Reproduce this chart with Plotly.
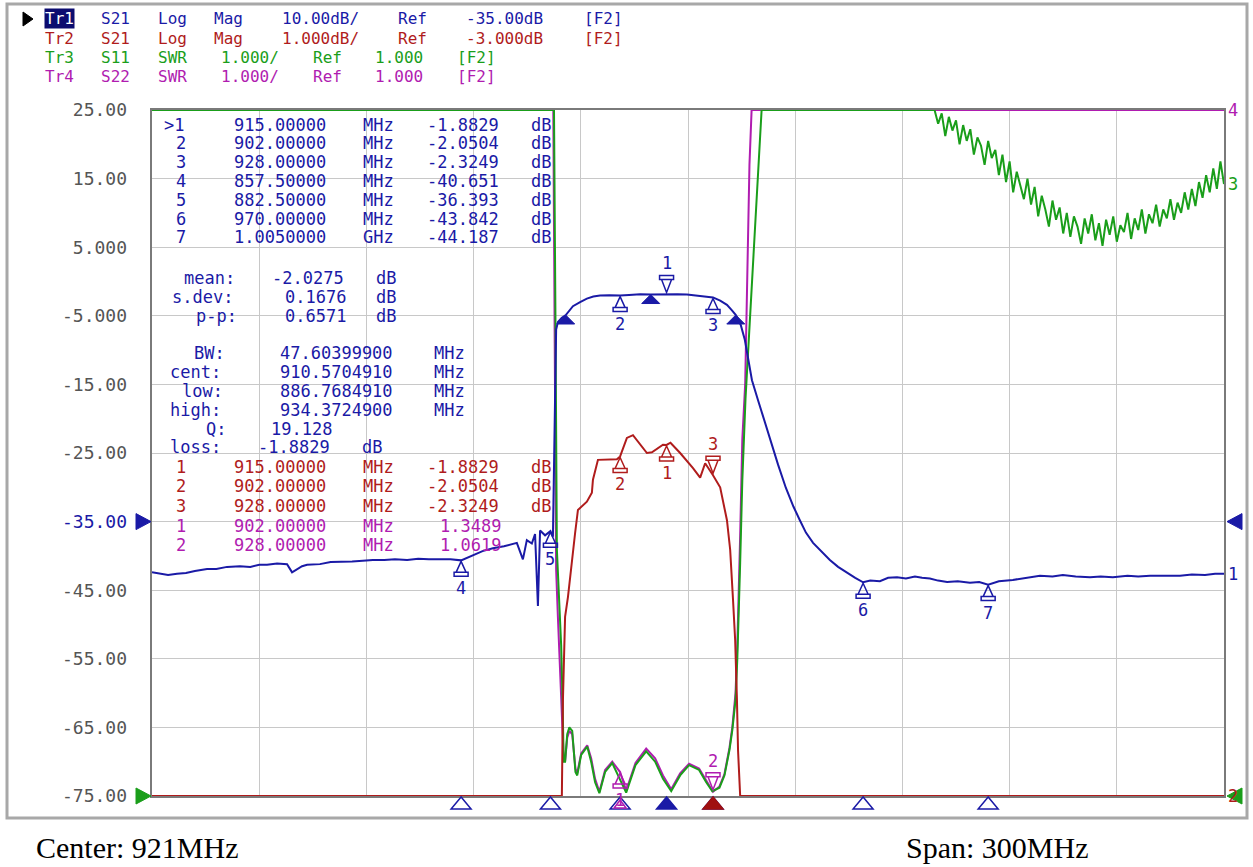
import re
import numpy as np
import plotly.graph_objects as go

# ---------------- stimulus / scale settings ----------------
center_mhz = 921.0
span_mhz = 300.0
n_div = 10

tr1_scale, tr1_ref, tr1_refpos = 10.0, -35.0, 4   # Log Mag 10 dB/div, ref -35 dB
tr2_scale, tr2_ref, tr2_refpos = 1.0, -3.0, 4     # Log Mag 1 dB/div, ref -3 dB
swr_scale, swr_ref, swr_refpos = 1.0, 1.0, 0      # SWR 1/div, ref 1.000

y_ticks = [25, 15, 5, -5, -15, -25, -35, -45, -55, -65, -75]
y_tick_labels = ["25.00", "15.00", "5.000", "-5.000", "-15.00", "-25.00",
                 "-35.00", "-45.00", "-55.00", "-65.00", "-75.00"]

header_lines = ["Tr1 S21 Log Mag 10.00dB/ Ref -35.00dB [F2]",
                "Tr2 S21 Log Mag 1.000dB/ Ref -3.000dB [F2]",
                "Tr3 S11 SWR 1.000/ Ref 1.000 [F2]",
                "Tr4 S22 SWR 1.000/ Ref 1.000 [F2]"]

# ---------------- Tr1  S21 Log Mag (dB) ----------------
tr1_freq = [771.0, 773.0, 775.5, 778.0, 780.5, 783.0, 786.4, 789.0, 792.0, 795.6,
            798.5, 801.0, 803.2, 806.0, 808.8, 810.2, 811.6, 813.0, 814.4, 818.0,
            821.0, 823.6, 827.0, 830.0, 832.8, 836.0, 839.0, 842.4, 845.5, 848.5,
            851.6, 854.5, 857.5, 860.8, 863.5, 866.4, 869.5, 873.1, 874.8, 875.9,
            877.3, 878.2, 879.0, 879.6, 881.0, 882.5, 883.2, 883.8, 884.1, 884.6,
            885.7, 886.8, 888.8, 890.8, 892.7, 894.5, 896.4, 899.0, 902.0, 904.5,
            907.6, 910.6, 913.0, 915.0, 918.0, 920.7, 924.4, 928.0, 930.0, 931.9,
            933.3, 934.4, 935.2, 935.8, 936.9, 937.8, 938.9, 940.6, 942.3, 943.9,
            946.2, 948.4, 950.5, 952.3, 954.0, 956.0, 958.5, 960.7, 963.0, 965.5,
            967.8, 970.0, 972.0, 974.7, 977.0, 979.5, 982.0, 984.5, 986.5, 988.7,
            991.0, 993.5, 996.5, 999.9, 1002.5, 1005.0, 1008.0, 1011.9, 1015.5, 1019.5,
            1023.0, 1025.9, 1029.5, 1033.5, 1036.5, 1039.9, 1044.0, 1047.0, 1050.3, 1054.5,
            1058.7, 1062.0, 1065.7, 1068.5, 1071.0]
tr1_db = [-42.4, -42.6, -42.8, -42.6, -42.5, -42.2, -41.9, -41.9, -41.6, -41.5,
          -41.6, -41.3, -41.3, -41.1, -41.2, -42.4, -41.9, -41.5, -41.3, -41.2,
          -40.9, -40.9, -40.8, -40.7, -40.6, -40.6, -40.5, -40.6, -40.4, -40.5,
          -40.5, -40.5, -40.651, -39.9, -39.3, -38.9, -38.6, -38.1, -40.5, -37.7,
          -38.2, -36.8, -47.3, -36.3, -37.0, -36.393, -37.2, -17.0, -7.0, -5.9,
          -5.3, -4.9, -3.6, -3.0, -2.5, -2.2, -2.05, -2.0, -2.0504, -1.95,
          -1.85, -1.9, -1.85, -1.8829, -1.85, -1.9, -2.1, -2.3249, -2.8, -3.4,
          -4.2, -4.9, -5.7, -6.4, -8.5, -11.4, -14.4, -17.3, -20.2, -23.1,
          -26.7, -30.1, -32.8, -34.8, -36.6, -38.1, -39.5, -40.6, -41.6, -42.5,
          -43.2, -43.842, -43.6, -43.7, -43.2, -43.1, -43.3, -43.0, -43.2, -43.3,
          -43.6, -43.8, -43.7, -43.9, -43.8, -44.187, -43.7, -43.5, -43.2, -42.9,
          -43.0, -42.8, -43.0, -43.1, -43.0, -43.1, -42.9, -43.0, -42.9, -42.9,
          -42.9, -42.7, -42.8, -42.6, -42.6]

# ---------------- Tr2  S21 Log Mag (dB, 1 dB/div) ----------------
tr2_freq = [771.0, 885.7, 886.0, 886.6, 887.4, 888.5, 889.4, 890.2, 892.7, 894.1,
            894.4, 895.8, 899.2, 901.1, 902.0, 903.9, 905.6, 907.6, 909.5, 910.9,
            914.0, 915.0, 916.1, 918.8, 922.4, 924.4, 925.8, 928.0, 930.0, 931.9,
            932.8, 933.6, 934.2, 934.7, 935.0, 935.6, 1071.0]
tr2_db = [-7.0, -7.0, -5.60, -4.39, -4.10, -3.56, -3.17, -2.83, -2.71, -2.58,
          -2.39, -2.10, -2.10, -2.09, -2.0504, -1.78, -1.74, -1.87, -2.00, -1.99,
          -1.88, -1.8829, -1.85, -2.00, -2.22, -2.36, -2.15, -2.3249, -2.50, -2.98,
          -3.41, -4.14, -4.73, -5.60, -6.33, -7.0, -7.0]

# ---------------- Tr3  S11 SWR ----------------
tr3_freq = [771.0, 883.5, 883.9, 884.3, 884.9, 885.5, 885.9, 886.2, 886.6, 887.2,
            887.8, 888.6, 889.5, 890.0, 891.1, 892.2, 892.8, 893.9, 895.0, 896.2,
            897.8, 899.8, 901.8, 903.7, 906.3, 909.3, 911.8, 914.0, 916.3, 918.8,
            921.3, 924.1, 926.1, 927.8, 929.8, 931.2, 932.6, 933.4, 934.3, 934.8,
            935.6, 936.2, 937.1, 938.2, 939.4, 940.5, 941.6,
            990.0, 991.0, 992.0, 993.0, 994.0, 995.0, 996.0, 997.0, 998.0, 999.0,
            1000.0, 1001.0, 1002.0, 1003.0, 1004.0, 1005.0, 1006.0, 1007.0, 1008.0, 1009.0,
            1010.0, 1011.0, 1012.0, 1013.0, 1014.0, 1015.0, 1016.0, 1017.0, 1018.0, 1019.0,
            1020.0, 1021.0, 1022.0, 1023.0, 1024.0, 1025.0, 1026.0, 1027.0, 1028.0, 1029.0,
            1030.0, 1031.0, 1032.0, 1033.0, 1034.0, 1035.0, 1036.0, 1037.0, 1038.0, 1039.0,
            1040.0, 1041.0, 1042.0, 1043.0, 1044.0, 1045.0, 1046.0, 1047.0, 1048.0, 1049.0,
            1050.0, 1051.0, 1052.0, 1053.0, 1054.0, 1055.0, 1056.0, 1057.0, 1058.0, 1059.0,
            1060.0, 1061.0, 1062.0, 1063.0, 1064.0, 1065.0, 1066.0, 1067.0, 1068.0, 1069.0,
            1070.0, 1071.0]
tr3_swr = [11.0, 11.0, 8.0, 4.6, 3.9, 3.2, 2.4, 1.5, 1.5, 1.9,
           2.0, 1.95, 1.35, 1.3, 1.6, 1.68, 1.72, 1.5, 1.2, 1.04,
           1.35, 1.48, 1.25, 1.05, 1.45, 1.65, 1.5, 1.25, 1.07, 1.3,
           1.45, 1.38, 1.2, 1.07, 1.12, 1.3, 1.67, 1.96, 2.4, 3.0,
           4.4, 5.6, 6.8, 7.8, 9.0, 10.0, 11.0,
           11.0, 10.80, 10.95, 10.62, 10.90, 10.70, 10.85, 10.50, 10.78, 10.55,
           10.72, 10.35, 10.60, 10.48, 10.20, 10.55, 10.30, 10.42, 10.05, 10.35,
           9.95, 10.25, 9.80, 10.10, 9.90, 9.70, 10.00, 9.62, 9.88, 9.45,
           9.75, 9.55, 9.30, 9.68, 9.40, 9.58, 9.20, 9.50, 9.15, 9.45,
           9.30, 9.05, 9.42, 9.20, 9.48, 9.10, 9.35, 9.02, 9.40, 9.18,
           9.45, 9.08, 9.32, 9.22, 9.50, 9.12, 9.42, 9.25, 9.55, 9.20,
           9.48, 9.35, 9.62, 9.30, 9.55, 9.42, 9.70, 9.40, 9.65, 9.50,
           9.80, 9.55, 9.85, 9.60, 9.95, 9.72, 10.05, 9.80, 10.15, 9.85,
           10.25, 9.92]

# ---------------- Tr4  S22 SWR ----------------
tr4_freq = [771.0, 883.3, 883.7, 884.1, 884.6, 885.3, 885.8, 886.2, 886.6, 887.2,
            887.8, 888.6, 889.5, 890.0, 891.1, 892.2, 892.8, 893.9, 895.0, 896.2,
            897.8, 899.8, 902.0, 903.7, 906.3, 909.3, 911.8, 914.0, 916.3, 918.8,
            921.3, 924.1, 926.1, 928.0, 929.8, 931.2, 932.6, 933.4, 934.3, 934.8,
            935.6, 936.2, 937.0, 937.6, 938.2, 938.8, 1071.0]
tr4_swr = [11.0, 11.0, 7.6, 4.3, 3.6, 2.8, 2.0, 1.55, 1.5, 1.85,
           1.95, 1.9, 1.4, 1.33, 1.62, 1.7, 1.74, 1.55, 1.25, 1.06,
           1.38, 1.5, 1.3489, 1.08, 1.48, 1.69, 1.55, 1.3, 1.1, 1.33,
           1.47, 1.40, 1.22, 1.0619, 1.14, 1.32, 1.7, 2.0, 2.5, 3.2,
           4.8, 6.2, 7.0, 8.8, 10.2, 11.0, 11.0]

# ---------------- marker readouts ----------------
tr1_mk_freq = [915.0, 902.0, 928.0, 857.5, 882.5, 970.0, 1005.0]
tr1_mk_val = [-1.8829, -2.0504, -2.3249, -40.651, -36.393, -43.842, -44.187]
tr1_active = 0
tr2_mk_freq = [915.0, 902.0, 928.0]
tr2_mk_val = [-1.8829, -2.0504, -2.3249]
tr2_active = 2
tr4_mk_freq = [902.0, 928.0]
tr4_mk_val = [1.3489, 1.0619]
tr4_active = 1

stat_mean, stat_sdev, stat_pp = -2.0275, 0.1676, 0.6571
bw_width, bw_cent, bw_low, bw_high = 47.603999, 910.570491, 886.768491, 934.37249
bw_q, bw_loss = 19.128, -1.8829

# ---------------- styling ----------------
C_BLUE = "#1a1aa6"
C_RED = "#b01c1c"
C_GREEN = "#1a9e1a"
C_MAG = "#b01cb0"
C_GRID = "#c8c8c8"
C_FRAME = "#7a7a7a"
MONO = "DejaVu Sans Mono"
FS = 17
FS_TICK = 18
FS_HDR = 16
PITCH = 14.1

W_FIG, H_FIG = 1253, 867
PL, PR, PT, PB = 152, 1224, 110, 796
PW, PH = PR - PL, PB - PT


def px_x(px):
    return (px - PL) / PW


def px_y(py):
    return (PB - py) / PH


def axis_range(scale, ref, pos):
    return [ref - pos * scale, ref + (n_div - pos) * scale]


r_tr1 = axis_range(tr1_scale, tr1_ref, tr1_refpos)
r_tr2 = axis_range(tr2_scale, tr2_ref, tr2_refpos)
r_swr = axis_range(swr_scale, swr_ref, swr_refpos)
x_range = [center_mhz - span_mhz / 2, center_mhz + span_mhz / 2]

shapes = []
annotations = []


def text_line(s, x0, py, color, pitch=PITCH, size=FS, family=MONO, special=None):
    for m in re.finditer(r"\S+", s):
        tok = m.group()
        cx = x0 + (m.start() + len(tok) / 2.0) * pitch
        a = dict(text=tok, x=px_x(cx), y=px_y(py), xref="paper", yref="paper",
                 xanchor="center", yanchor="middle", showarrow=False, borderpad=0,
                 font=dict(family=family, size=size, color=color))
        if special and tok in special:
            a.update(special[tok])
        annotations.append(a)


# ---------------- figure ----------------
fig = go.Figure()
fig.add_trace(go.Scatter(x=tr4_freq, y=tr4_swr, yaxis="y", mode="lines", name="Tr4 S22",
                         line=dict(color=C_MAG, width=2), hoverinfo="skip"))
fig.add_trace(go.Scatter(x=tr3_freq, y=tr3_swr, yaxis="y", mode="lines", name="Tr3 S11",
                         line=dict(color=C_GREEN, width=2), hoverinfo="skip"))
fig.add_trace(go.Scatter(x=tr2_freq, y=tr2_db, yaxis="y2", mode="lines", name="Tr2 S21",
                         line=dict(color=C_RED, width=2), hoverinfo="skip"))
fig.add_trace(go.Scatter(x=tr1_freq, y=tr1_db, yaxis="y3", mode="lines", name="Tr1 S21",
                         line=dict(color=C_BLUE, width=2), hoverinfo="skip"))

# ---- marker pins on traces ----
PIN_BELOW = "M0,-1 L-5,-12 L5,-12 Z M-7,-12 L7,-12 L7,-16 L-7,-16 Z"
PIN_ABOVE = "M0,2 L-5,15 L5,15 Z M-7,15 L7,15 L7,19 L-7,19 Z"


def marker_pin(f, v, yref, color, n, active):
    shapes.append(dict(type="path", xref="x", yref=yref, xsizemode="pixel", ysizemode="pixel",
                       xanchor=f, yanchor=v, path=PIN_ABOVE if active else PIN_BELOW,
                       line=dict(color=color, width=1.5), fillcolor="rgba(0,0,0,0)"))
    annotations.append(dict(x=f, y=v, xref="x", yref=yref, text=str(n), showarrow=False,
                            yshift=31 if active else -28, borderpad=0,
                            font=dict(family=MONO, size=FS, color=color)))


for i, (f, v) in enumerate(zip(tr1_mk_freq, tr1_mk_val)):
    marker_pin(f, v, "y3", C_BLUE, i + 1, i == tr1_active)
for i, (f, v) in enumerate(zip(tr2_mk_freq, tr2_mk_val)):
    marker_pin(f, v, "y2", C_RED, i + 1, i == tr2_active)
for i, (f, v) in enumerate(zip(tr4_mk_freq, tr4_mk_val)):
    marker_pin(f, v, "y", C_MAG, i + 1, i == tr4_active)

# ---- bandwidth search triangles (filled) ----
BW_TRI = "M0,0 L-9,-9 L9,-9 Z"
bw_level = bw_loss - 3.0
for f, v in [(bw_low, bw_level), (bw_high, bw_level),
             (bw_cent, float(np.interp(bw_cent, tr1_freq, tr1_db)))]:
    shapes.append(dict(type="path", xref="x", yref="y3", xsizemode="pixel", ysizemode="pixel",
                       xanchor=f, yanchor=v, path=BW_TRI, line=dict(color=C_BLUE, width=1),
                       fillcolor=C_BLUE))

# ---- stimulus triangles below the grid ----
STIM = "M0,-1 L-10,-13 L10,-13 Z"
STIM_SMALL = "M0,-4 L-6,-12 L6,-12 Z"


def stim(f, color, filled, path=STIM):
    shapes.append(dict(type="path", xref="x", yref="paper", xsizemode="pixel", ysizemode="pixel",
                       xanchor=f, yanchor=0, path=path, line=dict(color=color, width=1.5),
                       fillcolor=color if filled else "rgba(0,0,0,0)"))


for i, f in enumerate(tr1_mk_freq):
    stim(f, C_BLUE, i == tr1_active)
for i, f in enumerate(tr4_mk_freq):
    if i != tr4_active:
        stim(f, C_MAG, False, STIM_SMALL)
stim(tr2_mk_freq[tr2_active], "#a01010", True)


# ---- reference arrows at the grid edges ----
def frac(v, rng):
    return (v - rng[0]) / (rng[1] - rng[0])


def edge_arrow(side, v, rng, color):
    path = "M-16,8 L-1,0 L-16,-8 Z" if side == "left" else "M3,0 L18,8 L18,-8 Z"
    shapes.append(dict(type="path", xref="paper", yref="paper", xsizemode="pixel",
                       ysizemode="pixel", xanchor=0 if side == "left" else 1,
                       yanchor=frac(v, rng), path=path, line=dict(color=color, width=1),
                       fillcolor=color))


edge_arrow("left", tr1_ref, r_tr1, C_BLUE)
edge_arrow("left", swr_ref, r_swr, C_GREEN)
edge_arrow("right", tr1_ref, r_tr1, C_BLUE)
edge_arrow("right", swr_ref, r_swr, C_GREEN)

# ---- trace numbers at the right end ----
for fl, vl, yref, color, n in [(tr4_freq, tr4_swr, "y", C_MAG, "4"),
                               (tr3_freq, tr3_swr, "y", C_GREEN, "3"),
                               (tr2_freq, tr2_db, "y2", C_RED, "2"),
                               (tr1_freq, tr1_db, "y3", C_BLUE, "1")]:
    annotations.append(dict(x=fl[-1], y=vl[-1], xref="x", yref=yref, text=n, showarrow=False,
                            xanchor="left", xshift=3, borderpad=0,
                            font=dict(family=MONO, size=FS, color=color)))

# ---- header ----
hdr_colors = [C_BLUE, C_RED, C_GREEN, C_MAG]
hdr_y = [19, 38, 57, 76]
for line, col, yy in zip(header_lines, hdr_colors, hdr_y):
    special = {"Tr1": dict(bgcolor="#0c0c70",
                           font=dict(family=MONO, size=FS_HDR, color="white"))}
    text_line(line, 38, yy, col, pitch=14.14, size=FS_HDR, special=special)
shapes.append(dict(type="path", xref="paper", yref="paper", xsizemode="pixel", ysizemode="pixel",
                   xanchor=px_x(23), yanchor=px_y(19), path="M0,7 L10,0 L0,-7 Z",
                   line=dict(color="black", width=1), fillcolor="black"))


# ---- marker tables ----
def fmt_stim(f):
    return f"{f:.5f} MHz" if f < 1000 else f"{f / 1000:.7f} GHz"


row_y = 124.5
for i, (f, v) in enumerate(zip(tr1_mk_freq, tr1_mk_val)):
    s = f"{'>' if i == tr1_active else ' '}{i + 1}  {fmt_stim(f)} {v: .5g} dB"
    text_line(s, 160, row_y + 18.8 * i, C_BLUE)

stats = [(f" mean: {stat_mean: .4f} dB", 278), (f"s.dev: {stat_sdev: .4f} dB", 297),
         (f"  p-p: {stat_pp: .4f} dB", 316),
         (f"  BW:  {bw_width:.8f} MHz", 353), (f"cent:  {bw_cent:.7f} MHz", 372),
         (f" low:  {bw_low:.7f} MHz", 391), (f"high:  {bw_high:.7f} MHz", 410),
         (f"   Q:  {bw_q:.3f}", 428.5), (f"loss: {bw_loss:.4f} dB", 447.5)]
for s, yy in stats:
    text_line(s, 160, yy, C_BLUE)

for i, (f, v) in enumerate(zip(tr2_mk_freq, tr2_mk_val)):
    text_line(f" {i + 1}  {fmt_stim(f)} {v: .5g} dB", 160, 467 + 19.3 * i, C_RED)
for i, (f, v) in enumerate(zip(tr4_mk_freq, tr4_mk_val)):
    text_line(f" {i + 1}  {fmt_stim(f)} {v: .5g}", 160, 526 + 19.3 * i, C_MAG)

# ---- bottom stimulus text ----
for txt, xx in [(f"Center: {center_mhz:.0f}MHz", 35), (f"Span: {span_mhz:.0f}MHz", 905)]:
    annotations.append(dict(text=txt, x=px_x(xx), y=px_y(847), xref="paper",
                            yref="paper", xanchor="left", yanchor="middle", showarrow=False,
                            borderpad=0,
                            font=dict(family="Liberation Serif", size=30, color="black")))

# ---- outer panel frame ----
shapes.append(dict(type="rect", xref="paper", yref="paper", x0=px_x(7), x1=px_x(1247),
                   y0=px_y(818), y1=px_y(4), line=dict(color="#a8a8a8", width=3),
                   fillcolor="rgba(0,0,0,0)", layer="below"))

tick_text = [f"<span style='color:{C_BLUE}'>{t}</span>" if v == tr1_ref else t
             for v, t in zip(y_ticks, y_tick_labels)]

fig.update_layout(
    width=W_FIG, height=H_FIG, autosize=False,
    margin=dict(l=PL, r=W_FIG - PR, t=PT, b=H_FIG - PB, pad=0),
    paper_bgcolor="white", plot_bgcolor="white", showlegend=False,
    xaxis=dict(range=x_range, tick0=x_range[0], dtick=span_mhz / n_div, showticklabels=False,
               ticks="", showgrid=True, gridcolor=C_GRID, gridwidth=1, zeroline=False,
               showline=True, linecolor=C_FRAME, linewidth=2, mirror=True, fixedrange=True),
    yaxis=dict(range=r_swr, tick0=r_swr[0], dtick=swr_scale, showticklabels=False, ticks="",
               showgrid=True, gridcolor=C_GRID, gridwidth=1, zeroline=False,
               showline=True, linecolor=C_FRAME, linewidth=2, mirror=True, fixedrange=True),
    yaxis2=dict(range=r_tr2, overlaying="y", visible=False, fixedrange=True),
    yaxis3=dict(range=r_tr1, overlaying="y", side="left", tickmode="array", tickvals=y_ticks,
                ticktext=tick_text, ticks="", showgrid=False, zeroline=False, showline=False,
                ticklabelstandoff=24,
                tickfont=dict(family=MONO, size=FS_TICK, color="#555555"), fixedrange=True),
    shapes=shapes,
    annotations=annotations,
)

fig.write_html("out.html", config={"displayModeBar": False},
               post_script="document.body.style.margin='0px';"
                           "document.body.style.overflow='hidden';")
